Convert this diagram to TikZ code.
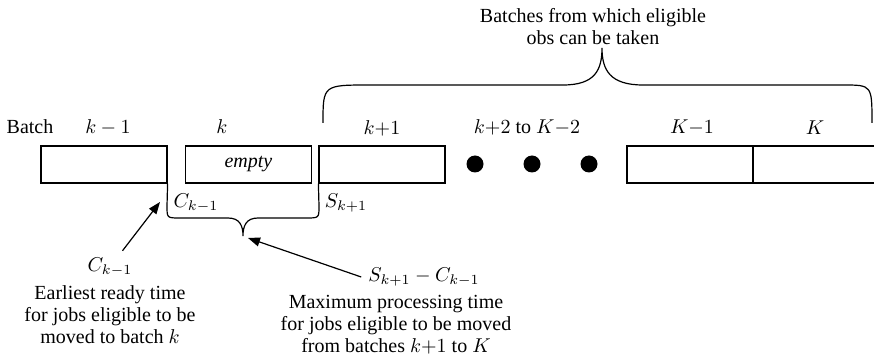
\documentclass[tikz,border=0pt]{standalone}
\usepackage{fontspec}
\setmainfont{Liberation Serif}
\usetikzlibrary{arrows.meta}

\begin{document}
\begin{tikzpicture}
[
	x=0.5pt,y=-0.5pt,
	every node/.style={font=\fontsize{10}{11}\selectfont},
	batch/.style={draw,line width=0.6pt,minimum width=63pt,minimum height=18.5pt,inner sep=0pt},
	dotpt/.style={circle,fill,inner sep=0pt,minimum size=8.5pt},
	arr/.style={-{Triangle[length=6pt,width=4.5pt]},line width=0.6pt},
	brace/.style={line width=0.6pt}
]
	\useasboundingbox (0,0) rectangle (874,363);

	% batches
	\node[batch] (b1) at (104,164.5) {};
	\node[batch] (b2) at (248.5,164.5) {\textit{empty}};
	\node[batch] (b3) at (382,164.5) {};
	\node[batch] (bKm1) at (690,164.5) {};
	\node[batch] (bK) at (816,164.5) {};

	% dots between
	\foreach \x [count=\i] in {475,532,589} {
		\node[dotpt] (d\i) at (\x,164) {};
	}

	% batch labels
	\node (batch) at (30,127) {Batch};
	\node (lb1) at (108,127) {$k-1$};
	\node (lb2) at (222,127) {$k$};
	\node (lb3) at (382,128) {$k{+}1$};
	\node (lbd) at (527,127) {$k{+}2$ to $K{-}2$};
	\node (lbKm1) at (692,128) {$K{-}1$};
	\node (lbK) at (815,128) {$K$};

	% top brace
	\draw[brace] (323,123) .. controls (323,85) .. (370,85) -- (563,85)
		.. controls (595,85) and (602,70) .. (602,48)
		.. controls (602,70) and (610,85) .. (643,85) -- (843,85)
		.. controls (872,85) .. (872,123);
	\node[align=center] (top) at (593,27) {Batches from which eligible\\obs can be taken};

	% bottom brace
	\draw[brace] (b1.south east) -- (167,206) .. controls (167,218) .. (180,218) -- (228,218)
		.. controls (240,218) and (243,226) .. (243,236)
		.. controls (243,226) and (246,218) .. (258,218) -- (306,218)
		.. controls (319,218) .. (319,206) -- (b3.south west);
	\node (ck) at (196,203) {$C_{k-1}$};
	\node (sk) at (346,203) {$S_{k{+}1}$};
	\coordinate (ckTip) at (160,202);
	\coordinate (brTip) at (248,238);

	% explanations
	\node (ckl) at (110,267) {$C_{k-1}$};
	\node[align=center] (ckdesc) at (110,315) {Earliest ready time\\for jobs eligible to be\\moved to batch $k$};
	\node (skl) at (424,277) {$S_{k{+}1}-C_{k-1}$};
	\node[align=center] (skdesc) at (396,325) {Maximum processing time\\for jobs eligible to be moved\\from batches $k{+}1$ to $K$};

	% arrows
	\draw[arr] (ckl) -- (ckTip);
	\draw[arr] (skl.west) -- (brTip);

\end{tikzpicture}
\end{document}
